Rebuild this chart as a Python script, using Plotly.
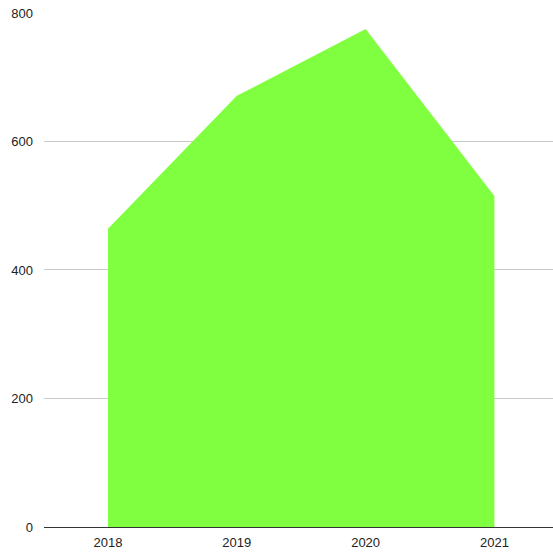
import plotly.graph_objects as go

years = ["2018", "2019", "2020", "2021"]
values = [464, 671, 775, 515]
y_ticks = [0, 200, 400, 600, 800]

xs = list(range(len(years)))

fig = go.Figure()
fig.add_trace(go.Scatter(
    x=xs, y=values, mode="lines", fill="tozeroy",
    line=dict(width=0, color="#80FF40"), fillcolor="#80FF40",
    hoverinfo="skip", showlegend=False, cliponaxis=False,
))
fig.update_layout(
    width=553, height=552,
    margin=dict(l=44, r=0, t=12, b=25),
    paper_bgcolor="white", plot_bgcolor="white",
    font=dict(family="Liberation Sans, Arial, sans-serif", size=13, color="#222"),
    xaxis=dict(
        range=[-0.497, 3.455], tickvals=xs, ticktext=years,
        showgrid=False, zeroline=False, showline=False, ticks="",
        automargin=False, ticklabelstandoff=6,
    ),
    yaxis=dict(
        range=[0, 801.5], tickvals=y_ticks, showgrid=True, gridcolor="#c8c8c8",
        gridwidth=1, zeroline=True, zerolinecolor="#333333", zerolinewidth=1,
        ticks="", ticklabelstandoff=10, automargin=False,
    ),
)
fig.write_html(
    "out.html",
    config={"displayModeBar": False, "staticPlot": True},
    post_script="document.body.style.margin='0';document.body.style.overflow='hidden';",
)
